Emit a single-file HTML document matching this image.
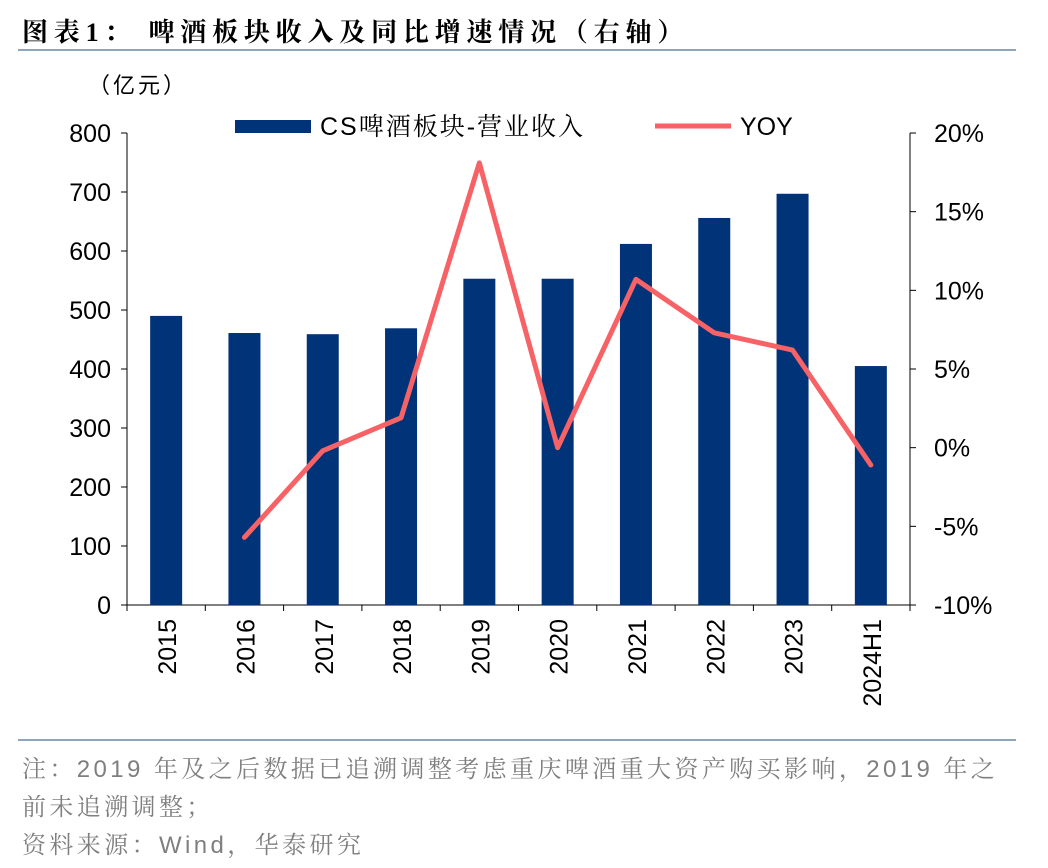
<!DOCTYPE html>
<html><head><meta charset="utf-8"><style>
body{margin:0;width:1048px;height:868px;background:#fff;font-family:"Liberation Sans","Noto Sans CJK SC",sans-serif;overflow:hidden}
.title{position:absolute;left:22px;top:12px;font-size:26px;font-weight:bold;color:#000;font-family:"Liberation Serif","Noto Serif CJK SC",serif;letter-spacing:5.8px;white-space:nowrap}
.rule{position:absolute;left:18px;width:998px;height:2px;background:#8fa5bd}
.note{position:absolute;left:22px;font-size:24px;color:#7f7f7f;font-family:"Liberation Sans","Noto Serif CJK SC",serif;letter-spacing:3.4px;white-space:nowrap}
</style></head><body>
<div class="title">图表1：&nbsp;啤酒板块收入及同比增速情况（右轴）</div>
<div class="rule" style="top:49px"></div>
<svg id="c" width="1048" height="868" style="position:absolute;left:0;top:0"></svg>
<div class="rule" style="top:739px"></div>
<div class="note" style="top:749px">注：2019 年及之后数据已追溯调整考虑重庆啤酒重大资产购买影响，2019 年之</div>
<div class="note" style="top:787px">前未追溯调整；</div>
<div class="note" style="top:825px">资料来源：Wind，华泰研究</div>
<script>
const categories=["2015","2016","2017","2018","2019","2020","2021","2022","2023","2024H1"];
const revenue=[490,461,459,469,553,553,612,656,697,405];
const yoy=[null,-5.7,-0.2,1.9,18.1,0.0,10.7,7.3,6.2,-1.1];
const leftTicks=[0,100,200,300,400,500,600,700,800];
const rightTicks=[-10,-5,0,5,10,15,20];
const svg=document.getElementById('c');const NS='http://www.w3.org/2000/svg';
const X0=127,X1=910,Y0=605,Y1=133;
const bw=(X1-X0)/categories.length;
const xc=i=>X0+bw*(i+0.5);
const yl=v=>Y0-(v/800)*(Y0-Y1);
const yr=v=>Y0-((v+10)/30)*(Y0-Y1);
function mk(t,a,txt){const e=document.createElementNS(NS,t);for(const k in a)e.setAttribute(k,a[k]);if(txt!=null)e.textContent=txt;svg.appendChild(e);return e;}
const font='"Liberation Sans","Noto Sans CJK SC",sans-serif';
let e=mk('line',{x1:X0,y1:Y1,x2:X0,y2:Y0,stroke:'#000','stroke-width':1});

e=mk('line',{x1:X1,y1:Y1,x2:X1,y2:Y0,stroke:'#000','stroke-width':1});

e=mk('line',{x1:X0,y1:Y0,x2:X1,y2:Y0,stroke:'#000','stroke-width':1});

leftTicks.forEach(v=>{const y=yl(v);mk('line',{x1:X0-6,y1:y,x2:X0,y2:y,stroke:'#000'});
 const t=mk('text',{x:X0-16,y:y+9,'text-anchor':'end','font-size':25,'font-family':font},v);
 });
rightTicks.forEach(v=>{const y=yr(v);mk('line',{x1:X1,y1:y,x2:X1+6,y2:y,stroke:'#000'});
 const t=mk('text',{x:X1+24,y:y+9,'font-size':25,'font-family':font},v+'%');
 });
for(let i=0;i<=categories.length;i++){mk('line',{x1:X0+bw*i,y1:Y0,x2:X0+bw*i,y2:Y0+6,stroke:'#000'});}
e=mk('text',{x:88,y:93,'font-size':22,'font-family':font,'letter-spacing':3},'（亿元）');

categories.forEach((c,i)=>{
 const b=mk('rect',{x:xc(i)-16,y:yl(revenue[i]),width:32,height:Y0-yl(revenue[i]),fill:'#003377'});
 
 const t=mk('text',{x:0,y:0,'font-size':25,'font-family':font,'text-anchor':'end',transform:`translate(${xc(i)+10},${Y0+14}) rotate(-90)`},c);
 
});
let pts=[];yoy.forEach((v,i)=>{if(v!=null)pts.push(xc(i)+','+yr(v));});
e=mk('polyline',{points:pts.join(' '),fill:'none',stroke:'#f66265','stroke-width':5,'stroke-linejoin':'round','stroke-linecap':'round'});

e=mk('rect',{x:235,y:120,width:76,height:13,fill:'#003377'});

e=mk('text',{x:320,y:135,'font-size':25,'font-family':'"Liberation Sans","Noto Serif CJK SC",serif','letter-spacing':2},'CS啤酒板块-营业收入');

e=mk('line',{x1:655,y1:126,x2:731,y2:126,stroke:'#f66265','stroke-width':5});

e=mk('text',{x:740,y:135,'font-size':25,'font-family':font},'YOY');

</script>
</body></html>
